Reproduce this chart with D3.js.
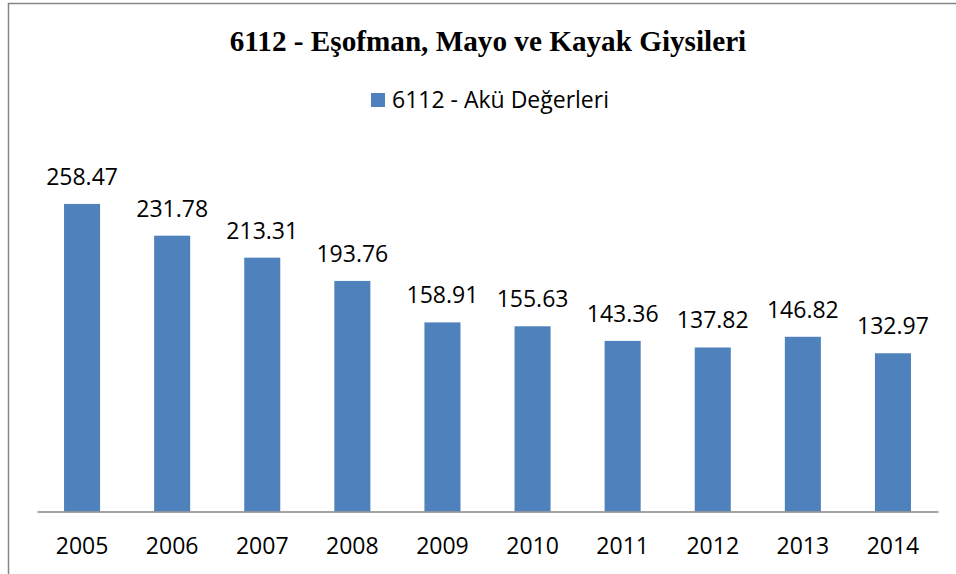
<!DOCTYPE html>
<html><head><meta charset="utf-8">
<script src="https://cdn.jsdelivr.net/npm/d3@7"></script>
<style>body{margin:0;background:#fff}</style>
</head><body>
<svg id="c" width="956" height="574"></svg>
<script>
const years = ["2005","2006","2007","2008","2009","2010","2011","2012","2013","2014"];
const values = [258.47,231.78,213.31,193.76,158.91,155.63,143.36,137.82,146.82,132.97];
const title = "6112 - Eşofman, Mayo ve Kayak Giysileri";
const seriesName = "6112 - Akü Değerleri";

const svg = d3.select("#c");
svg.append("rect").attr("x",0).attr("y",0).attr("width",956).attr("height",574).attr("fill","#fff");
// border (left and top)
svg.append("path").attr("d","M8.5,574 V3.5 H956").attr("fill","none").attr("stroke","#868686").attr("stroke-width",1.5);

const x = d3.scaleBand().domain(years).range([37,938]).paddingInner(0.6).paddingOuter(0.3);
const y = d3.scaleLinear().domain([0,300]).range([511.5,154.5]);

svg.append("text").attr("x",488).attr("y",51).attr("text-anchor","middle")
  .attr("font-family","Liberation Serif").attr("font-weight","bold").attr("font-size",29.2)
  .text(title);

const lg = svg.append("g");
lg.append("rect").attr("x",371).attr("y",93).attr("width",14).attr("height",14).attr("fill","#4F81BD");
lg.append("text").attr("x",392).attr("y",108).attr("font-family","Open Sans").attr("font-size",23).text(seriesName);

svg.selectAll("rect.bar").data(values).join("rect").attr("class","bar")
  .attr("x",(d,i)=>x(years[i])).attr("width",x.bandwidth())
  .attr("y",d=>y(d)).attr("height",d=>y(0)-y(d)).attr("fill","#4F81BD");

svg.selectAll("text.lbl").data(values).join("text").attr("class","lbl")
  .attr("x",(d,i)=>x(years[i])+x.bandwidth()/2).attr("y",d=>y(d)-19)
  .attr("text-anchor","middle").attr("font-family","Open Sans").attr("font-size",23)
  .text(d=>d.toFixed(2));

const ax = svg.append("g").attr("transform","translate(0,511.5)")
  .call(d3.axisBottom(x).tickSize(0).tickPadding(26));
ax.select(".domain").attr("stroke","#868686").attr("stroke-width",1.5);
ax.selectAll("text").attr("font-family","Open Sans").attr("font-size",23).attr("fill","#000");
</script>
</body></html>
